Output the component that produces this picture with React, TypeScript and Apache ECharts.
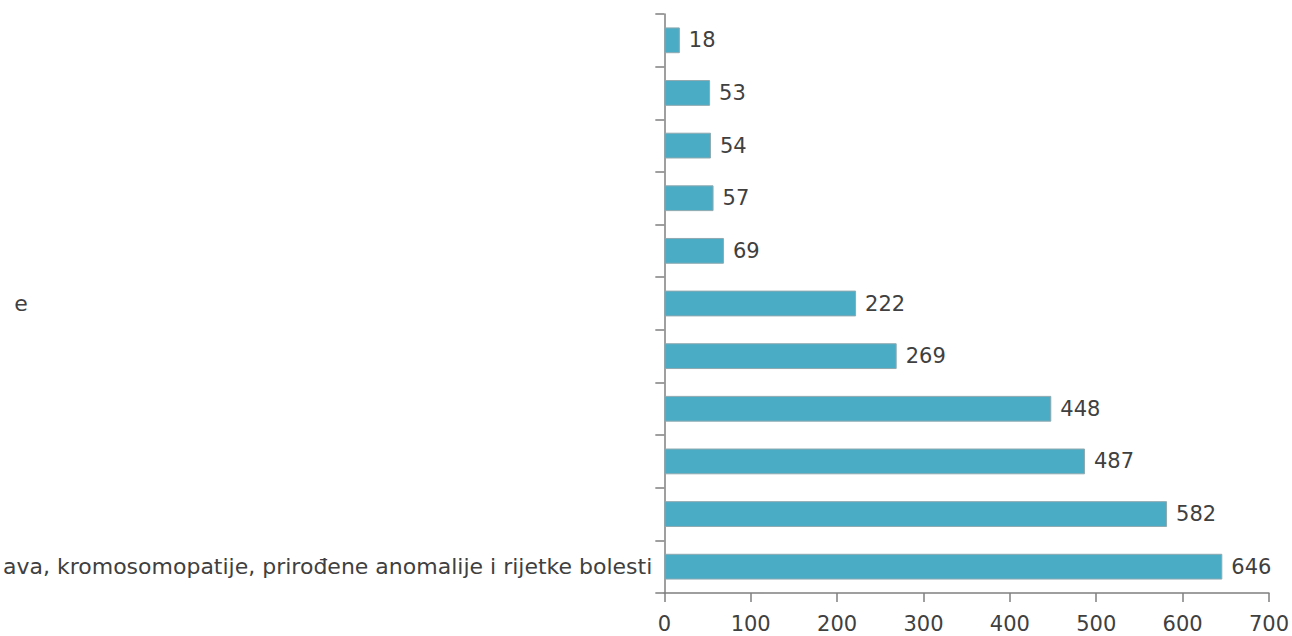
import React, { useEffect, useRef } from "react";
import * as echarts from "echarts";

// bottom-to-top order
const categoryLabels = [
  "ava, kromosomopatije, prirođene anomalije i rijetke bolesti",
  "",
  "",
  "",
  "",
  "e",
  "",
  "",
  "",
  "",
  "",
];
const values = [646, 582, 487, 448, 269, 222, 69, 57, 54, 53, 18];
const xMin = 0;
const xMax = 700;
const xStep = 100;

export default function App() {
  const ref = useRef<HTMLDivElement>(null);
  useEffect(() => {
    if (!ref.current) return;
    const chart = echarts.init(ref.current, null, { renderer: "svg" });
    const font = "DejaVu Sans";
    chart.setOption({
      animation: false,
      grid: { left: 662, right: 22, top: 14, bottom: 43, containLabel: false },
      xAxis: {
        type: "value",
        min: xMin,
        max: xMax,
        interval: xStep,
        splitLine: { show: false },
        axisLine: { show: true, lineStyle: { color: "#7f7f7f", width: 1.5 } },
        axisTick: { show: true, length: 9, lineStyle: { color: "#7f7f7f", width: 1.5 } },
        axisLabel: { color: "#404040", fontSize: 21, fontFamily: font, margin: 20 },
      },
      yAxis: {
        type: "category",
        data: categoryLabels.map((_, i) => String(i)),
        axisLine: { show: true, lineStyle: { color: "#7f7f7f", width: 1.5 } },
        axisTick: { show: true, length: 9, interval: 0, alignWithLabel: false, lineStyle: { color: "#7f7f7f", width: 1.5 } },
        axisLabel: {
          interval: 0,
          margin: 12,
          color: "#404040",
          fontSize: 22,
          fontFamily: font,
          formatter: (_v: string, i: number) => {
            const t = categoryLabels[i];
            if (t === "e") return "{e|" + t + "}";
            return t;
          },
          rich: {
            e: { width: 638, align: "left", color: "#404040", fontSize: 22, fontFamily: font },
          },
        },
      },
      series: [
        {
          type: "bar",
          data: values,
          barCategoryGap: "51%",
          itemStyle: { color: "#4BACC6", borderColor: "#8FA9B0", borderWidth: 1 },
          label: {
            show: true,
            position: "right",
            distance: 9,
            color: "#404040",
            fontSize: 21,
            fontFamily: font,
          },
        },
      ],
    });
    return () => chart.dispose();
  }, []);
  return (
    <div
      ref={ref}
      style={{ position: "absolute", left: 0, top: 0, width: 1292, height: 636, background: "#fff" }}
    />
  );
}
